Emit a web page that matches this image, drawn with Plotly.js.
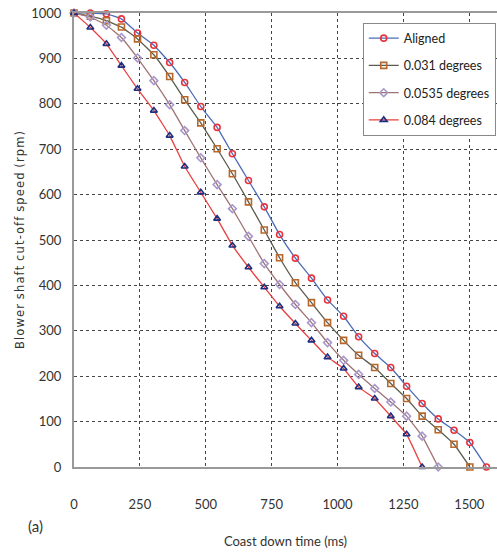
<!DOCTYPE html>
<html><head><meta charset="utf-8">
<script src="https://cdn.plot.ly/plotly-3.0.1.min.js"></script>
<style>html,body{margin:0;padding:0;background:#fff}#chart{width:497px;height:552px}</style>
</head><body><div id="chart"></div>
<script>
const timeMs = [0, 62, 123, 180, 241, 303, 363, 420, 481, 543, 601, 662, 722, 780, 840, 901, 962, 1023, 1080, 1141, 1202, 1262, 1321, 1382, 1442, 1502, 1565];
const alignedRpm = [1000, 1000, 998, 987, 956, 929, 891, 847, 794, 748, 690, 631, 573, 512, 460, 416, 368, 332, 287, 250, 219, 178, 140, 106, 81, 54, 0];
const deg0031Rpm = [1000, 993, 983, 969, 943, 908, 860, 809, 758, 701, 646, 584, 522, 461, 406, 362, 318, 279, 246, 219, 184, 151, 112, 82, 50, 0];
const deg00535Rpm = [1000, 991, 973, 946, 901, 851, 798, 741, 681, 622, 569, 508, 448, 402, 358, 318, 274, 235, 204, 173, 143, 112, 68, 0];
const deg0084Rpm = [1000, 968, 932, 884, 833, 785, 730, 662, 605, 547, 488, 440, 396, 354, 316, 279, 242, 217, 176, 151, 112, 72, 0];
const seriesNames = ["Aligned", "0.031 degrees", "0.0535 degrees", "0.084 degrees"];
const xTicks = [0, 250, 500, 750, 1000, 1250, 1500];
const yTicks = [0, 100, 200, 300, 400, 500, 600, 700, 800, 900, 1000];

const narrow = 'Lato, "Liberation Sans", sans-serif';
const styles = [
  {line:'#4b6cb7', mcol:'#e8323c', sym:'circle-open', size:6},
  {line:'#5c5c50', mcol:'#b8682a', sym:'square-open', size:6},
  {line:'#a07373', mcol:'#a898cc', sym:'diamond-open', size:6},
  {line:'#e84040', mcol:'#1f2f80', sym:'triangle-up-open', size:6}
];
const ys = [alignedRpm, deg0031Rpm, deg00535Rpm, deg0084Rpm];
const traces = ys.map((y, i) => ({
  x: timeMs.slice(0, y.length), y: y, name: seriesNames[i], legendgroup: 'g' + i,
  type: 'scatter', mode: 'lines+markers', cliponaxis: false,
  line: {color: styles[i].line, width: 1.3, shape: 'spline', smoothing: 0.3},
  marker: {symbol: styles[i].sym, size: styles[i].size, color: styles[i].mcol, line: {color: styles[i].mcol, width: 1.6}}
}));

const layout = {
  width: 497, height: 552,
  margin: {l: 74, r: 0, t: 13, b: 85},
  paper_bgcolor: '#fff', plot_bgcolor: '#fff',
  showlegend: true,
  legend: {x: 0.997, y: 0.979, xanchor: 'right', yanchor: 'top', bgcolor: '#fff', bordercolor: '#888', borderwidth: 1,
           font: {family: narrow, size: 12.5, color: '#222'}, tracegroupgap: 8, itemwidth: 30},
  xaxis: {
    range: [0, 1605], tickvals: xTicks, ticktext: xTicks.map(String),
    showgrid: true, gridcolor: '#444', griddash: 'dot', gridwidth: 1,
    zeroline: false, showline: true, linecolor: '#999', linewidth: 2, mirror: true,
    ticks: 'outside', ticklen: 24, tickcolor: 'rgba(0,0,0,0)',
    tickfont: {family: narrow, size: 13, color: '#333'},
    title: {text: 'Coast down time (ms)', font: {family: narrow, size: 13, color: '#333'}, standoff: 26}
  },
  yaxis: {
    range: [0, 1000], tickvals: yTicks, ticktext: yTicks.map(String),
    showgrid: true, gridcolor: '#444', griddash: 'dot', gridwidth: 1,
    zeroline: false, showline: true, linecolor: '#999', linewidth: 2,
    ticks: 'outside', ticklen: 8, tickcolor: 'rgba(0,0,0,0)',
    tickfont: {family: narrow, size: 13, color: '#333'},
    title: {text: 'B l o w e r  s h a f t  c u t - o f f  s p e e d  ( r p m )'.replace(/ (?! )/g, '\u200A').replace(/  /g, ' '), font: {family: 'DejaVu Sans, sans-serif', size: 11.5, color: '#333'}, standoff: 4}
  },
  annotations: [{text: '(a)', xref: 'paper', yref: 'paper', x: -0.113, y: -0.13, xanchor: 'left', yanchor: 'middle', showarrow: false,
    font: {family: narrow, size: 15, color: '#333'}}]
};
Plotly.newPlot('chart', traces, layout, {displayModeBar: false, staticPlot: true});
</script></body></html>
